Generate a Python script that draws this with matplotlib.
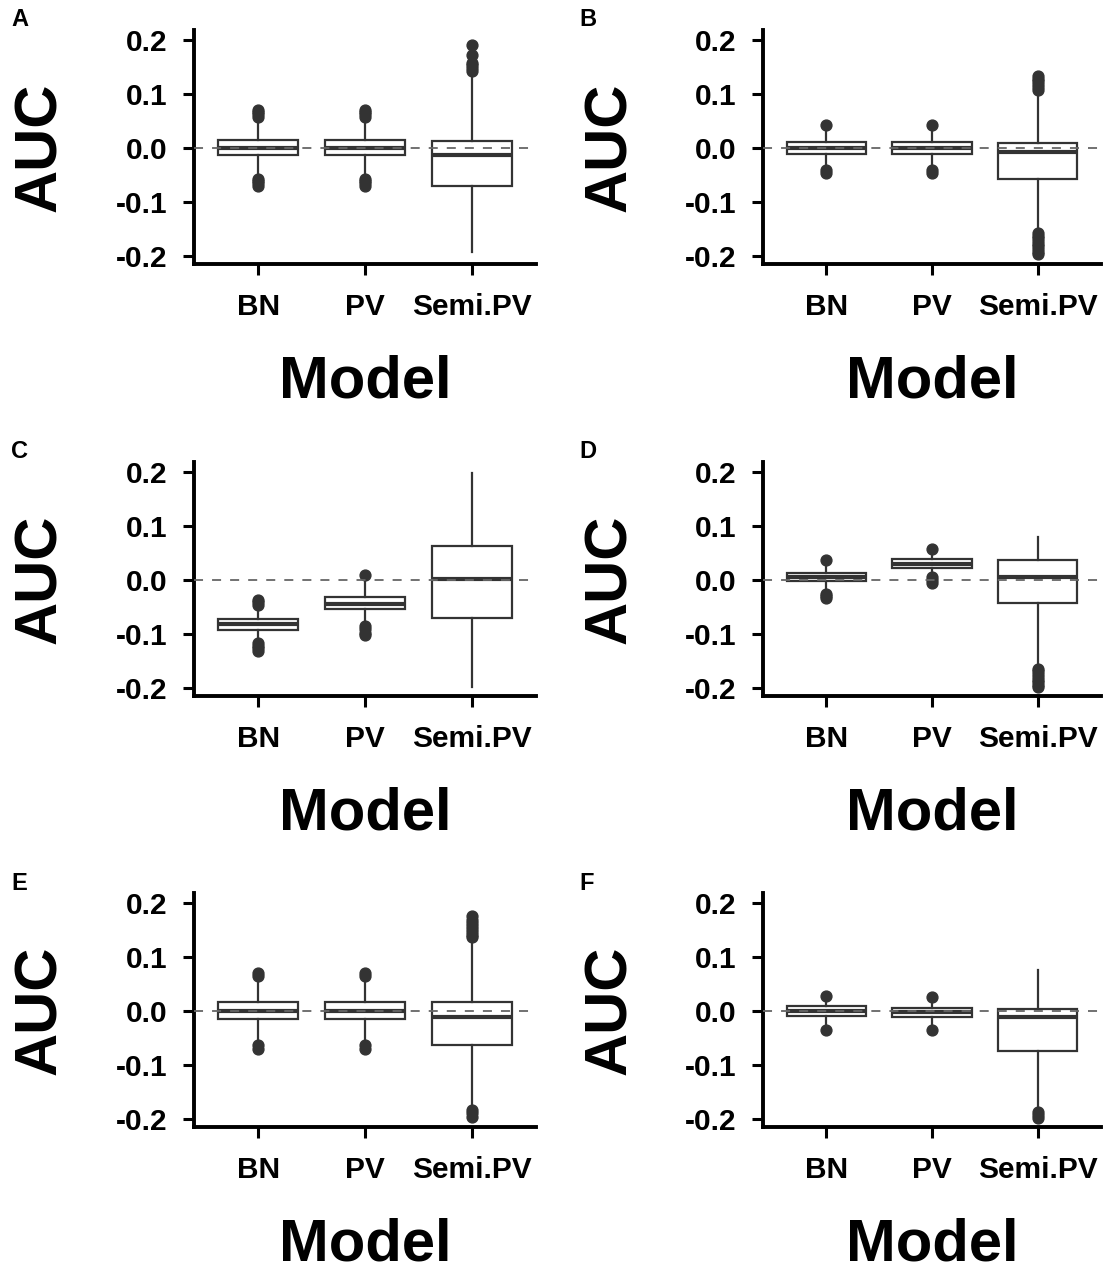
import matplotlib
matplotlib.use("Agg")
import matplotlib.pyplot as plt

plt.rcParams['font.family'] = ['Liberation Sans', 'DejaVu Sans']

models = ["BN", "PV", "Semi.PV"]
panels = ["A", "B", "C", "D", "E", "F"]

# box statistics per panel, one value per model (BN, PV, Semi.PV)
whislo = [[-0.055, -0.055, -0.193],
          [-0.035, -0.035, -0.152],
          [-0.109, -0.079, -0.199],
          [-0.020, 0.012, -0.157],
          [-0.058, -0.058, -0.175],
          [-0.025, -0.027, -0.184]]
q1 = [[-0.014, -0.014, -0.070],
      [-0.011, -0.011, -0.057],
      [-0.094, -0.055, -0.070],
      [-0.003, 0.022, -0.043],
      [-0.016, -0.016, -0.064],
      [-0.009, -0.011, -0.075]]
med = [[0.000, 0.000, -0.013],
       [-0.001, -0.001, -0.007],
       [-0.082, -0.044, 0.001],
       [0.005, 0.030, 0.006],
       [0.000, 0.000, -0.011],
       [0.000, -0.002, -0.012]]
q3 = [[0.015, 0.015, 0.013],
      [0.010, 0.010, 0.009],
      [-0.073, -0.031, 0.063],
      [0.012, 0.038, 0.037],
      [0.016, 0.016, 0.016],
      [0.008, 0.006, 0.003]]
whishi = [[0.055, 0.055, 0.138],
          [0.033, 0.033, 0.100],
          [-0.057, -0.002, 0.199],
          [0.027, 0.048, 0.080],
          [0.058, 0.058, 0.130],
          [0.018, 0.017, 0.075]]
fliers = [
    [[0.058, 0.062, 0.066, 0.070, -0.058, -0.062, -0.066, -0.070],
     [0.058, 0.062, 0.066, 0.070, -0.058, -0.062, -0.066, -0.070],
     [0.143, 0.148, 0.153, 0.158, 0.172, 0.190]],
    [[0.042, -0.042, -0.046],
     [0.042, -0.042, -0.046],
     [0.108, 0.113, 0.118, 0.123, 0.128, 0.133,
      -0.158, -0.163, -0.168, -0.173, -0.178, -0.183, -0.188, -0.193, -0.197]],
    [[-0.038, -0.042, -0.046, -0.118, -0.122, -0.127, -0.132],
     [0.009, -0.086, -0.092, -0.098, -0.103],
     []],
    [[0.036, -0.026, -0.030, -0.034],
     [0.057, 0.005, 0.000, -0.005],
     [-0.165, -0.170, -0.175, -0.180, -0.185, -0.190, -0.195, -0.199]],
    [[0.065, 0.070, -0.064, -0.070],
     [0.065, 0.070, -0.064, -0.070],
     [0.136, 0.141, 0.146, 0.151, 0.157, 0.163, 0.169, 0.175, -0.184, -0.190, -0.197]],
    [[0.027, -0.036],
     [0.025, -0.036],
     [-0.188, -0.193, -0.198]],
]
yticks = [0.2, 0.1, 0.0, -0.1, -0.2]

W, H = 1103, 1273
fig = plt.figure(figsize=(W / 100, H / 100), dpi=100)

col_x = [(194, 536), (763, 1101)]
row_y = [(30, 264), (462, 696), (893, 1127)]
dark = '#333333'

for i, name in enumerate(panels):
    r, c = divmod(i, 2)
    x0, x1 = col_x[c]
    y0, y1 = row_y[r]
    ax = fig.add_axes([x0 / W, 1 - y1 / H, (x1 - x0) / W, (y1 - y0) / H])

    stats = []
    for j, m in enumerate(models):
        stats.append(dict(label=m, whislo=whislo[i][j], q1=q1[i][j], med=med[i][j],
                          q3=q3[i][j], whishi=whishi[i][j], fliers=fliers[i][j]))
    ax.bxp(stats, positions=[1, 2, 3], widths=0.75, patch_artist=True,
           showcaps=False,
           boxprops=dict(facecolor='white', edgecolor=dark, linewidth=1.6),
           whiskerprops=dict(color=dark, linewidth=1.6),
           medianprops=dict(color=dark, linewidth=3.0, solid_capstyle='butt'),
           flierprops=dict(marker='o', markerfacecolor=dark, markeredgecolor=dark,
                           markersize=7.8, linestyle='none'))
    ax.axhline(0, color='#666666', linestyle=(0, (5, 5)), linewidth=1.3, zorder=5)

    ax.set_xlim(0.4, 3.6)
    ax.set_ylim(-0.2155, 0.2185)
    ax.set_yticks(yticks)
    ax.set_yticklabels([f"{v:.1f}" for v in yticks])
    ax.set_xticks([1, 2, 3])
    ax.set_xticklabels(models)
    for side in ['top', 'right']:
        ax.spines[side].set_visible(False)
    for side in ['left', 'bottom']:
        ax.spines[side].set_linewidth(2.8)
        ax.spines[side].set_capstyle('projecting')
    ax.tick_params(length=8, width=2.2, labelsize=21.5, color='black')
    ax.tick_params(axis='y', pad=11)
    ax.tick_params(axis='x', pad=13)
    for lab in ax.get_xticklabels() + ax.get_yticklabels():
        lab.set_fontweight('bold')

    ax.text(-0.45, 0.5, "AUC", rotation=90, ha='center', va='center',
            fontsize=43, fontweight='bold', transform=ax.transAxes)
    ax.text(0.5, -0.505, "Model", ha='center', va='center',
            fontsize=43, fontweight='bold', transform=ax.transAxes)
    fig.text((11 if c == 0 else 579) / W, 1 - (y0 - 10) / H, name,
             ha='left', va='center', fontsize=17, fontweight='bold')

fig.savefig("out.png", dpi=100)
